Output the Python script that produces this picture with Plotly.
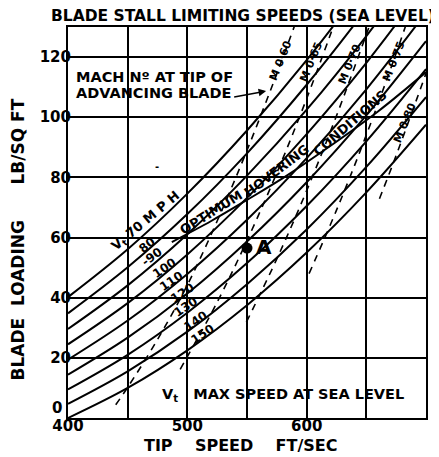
import plotly.graph_objects as go

# ---- data ----
tip_speed = [400, 450, 500, 550, 600, 650, 700]          # ft/sec
vt_labels = ["70", "80", "90", "100", "110", "120", "130", "140", "150"]  # mph
vt_70 = [40.2, 56.1, 74.6, 95.6, 119.0, 145.0, 173.0]
vt_80 = [34.8, 50.1, 67.8, 88.0, 110.8, 136.0, 163.0]
vt_90 = [29.6, 44.1, 61.1, 80.6, 102.5, 127.0, 154.0]
vt_100 = [24.5, 38.2, 54.4, 73.2, 94.4, 118.1, 144.3]
vt_110 = [19.4, 32.4, 47.9, 65.9, 86.4, 109.3, 134.8]
vt_120 = [14.4, 26.7, 41.4, 58.7, 78.4, 100.6, 125.3]
vt_130 = [9.5, 21.0, 35.0, 51.5, 70.5, 92.0, 116.0]
vt_140 = [4.7, 15.5, 28.7, 44.5, 62.7, 83.5, 106.7]
vt_150 = [0.0, 10.0, 22.5, 37.5, 55.0, 75.0, 97.5]
vt_curves = [vt_70, vt_80, vt_90, vt_100, vt_110, vt_120, vt_130, vt_140, vt_150]

# Mach number at tip of advancing blade (dashed)
m60_x = [440, 450, 475, 500, 525, 550, 575, 595]
m60_y = [4.4, 10.2, 26.1, 44.2, 65.5, 89.0, 114.5, 136.0]
m65_x = [494, 525, 550, 575, 600, 625]
m65_y = [16.2, 38.5, 59.0, 81.5, 106.2, 133.1]
m70_x = [549.5, 575, 600, 625, 650, 655]
m70_y = [31.9, 52.9, 75.6, 100.5, 127.5, 133.1]
m75_x = [602, 625, 650, 675, 690]
m75_y = [48.0, 69.1, 94.1, 121.3, 138.7]
m80_x = [661, 675, 700]
m80_y = [72.9, 87.3, 114.6]

# optimum hovering conditions
opt_x = [487, 520, 550, 583, 620, 660, 700]
opt_y = [58.5, 65.5, 72.5, 80.5, 90.5, 102.0, 115.0]

point_a = (550, 56.5)

x_ticks = [400, 450, 500, 550, 600, 650, 700]
x_ticktext = ["400", "", "500", "", "600", "", "700"]
y_ticks = [0, 20, 40, 60, 80, 100, 120]
y_ticktext = ["", "20", "40", "60", "80", "100", "120"]

FONT = "DejaVu Sans"
NB = "\u00a0"

fig = go.Figure()

for vals in vt_curves:
    fig.add_trace(go.Scatter(x=tip_speed, y=vals, mode="lines",
                             line=dict(color="black", width=2, shape="spline", smoothing=1.0),
                             hoverinfo="skip", showlegend=False))

for mx, my in [(m60_x, m60_y), (m65_x, m65_y), (m70_x, m70_y), (m75_x, m75_y), (m80_x, m80_y)]:
    fig.add_trace(go.Scatter(x=mx, y=my, mode="lines",
                             line=dict(color="black", width=1.6, dash="7px,6px", shape="spline"),
                             hoverinfo="skip", showlegend=False))

fig.add_trace(go.Scatter(x=opt_x, y=opt_y, mode="lines",
                         line=dict(color="black", width=2, shape="spline"),
                         hoverinfo="skip", showlegend=False))

fig.add_trace(go.Scatter(x=[point_a[0]], y=[point_a[1]], mode="markers",
                         marker=dict(color="black", size=11),
                         hoverinfo="skip", showlegend=False))

ann = []
def txt(x, y, t, size=11, angle=0, xanchor="center", yanchor="middle", xref="x", yref="y"):
    ann.append(dict(x=x, y=y, text=t, showarrow=False, textangle=angle,
                    xanchor=xanchor, yanchor=yanchor, xref=xref, yref=yref,
                    font=dict(family=FONT, size=size, color="black", weight="bold")))

# curve labels
txt(465, 65.3, "V<sub>t</sub>" + NB + "70 M P H", 13, -40)
txt(466.5, 57.4, "80", 12, -38)
txt(470, 53.6, "-90", 12, -36)
txt(481, 49.8, "100", 12, -34)
txt(487, 45.4, "110", 12, -34)
txt(496, 41.5, "120", 12, -34)
txt(498.5, 37.0, "130", 12, -34)
txt(507, 32.3, "140", 12, -34)
txt(513, 27.9, "150", 12, -34)

# optimum hovering text
txt(520, 68.2, "OPTIMUM", 13, -32)
txt(575, 82.3, "HOVERING", 13, -37)
txt(636, 98.0, "CONDITIONS", 13, -41)

# Mach labels
txt(578, 119.0, "M 0·60", 11, -68)
txt(604, 118.5, "M 0·65", 11, -68)
txt(636, 117.5, "M 0·70", 11, -68)
txt(673, 118.5, "M 0·75", 11, -68)
txt(682, 98.0, "M 0·80", 11, -68)

# small stray mark in the open grid cell
txt(474.5, 83.5, "-", 10, 0)

txt(405, 113.5, "MACH N\u00ba AT TIP OF", 14.5, 0, xanchor="left")
txt(405, 108.2, "ADVANCING BLADE", 14.5, 0, xanchor="left")
ann.append(dict(x=566, y=108.7, ax=538, ay=106.6, axref="x", ayref="y", xref="x", yref="y",
                showarrow=True, arrowhead=2, arrowsize=1, arrowwidth=1.5, arrowcolor="black", text=""))

txt(555.5, 57.0, "A", 20, 0, xanchor="left")
txt(580, 7.6, "V<sub>t</sub>" + NB * 3 + "MAX SPEED AT SEA LEVEL", 14.5, 0)

# y-axis zero label (sits a little above the axis line)
txt(-0.012, 3.2, "0", 15, 0, xanchor="right", xref="paper", yref="y")

# titles
txt(0.489, 1.0, "BLADE STALL LIMITING SPEEDS (SEA LEVEL)", 15.5, 0,
    yanchor="bottom", xref="paper", yref="paper")
txt(0.482, -0.0703, "TIP" + NB * 4 + "SPEED" + NB * 4 + "FT/SEC", 16, 0, xref="paper", yref="paper")
txt(-0.14, 59.3, "BLADE" + NB * 2 + "LOADING" + NB * 6 + "LB/SQ FT", 17, -90, xref="paper", yref="y")

fig.update_layout(
    width=431, height=449,
    margin=dict(l=60, r=11, t=19, b=39),
    paper_bgcolor="white", plot_bgcolor="white",
    annotations=ann,
    font=dict(family=FONT, color="black"),
    xaxis=dict(range=[400, 700], tickmode="array", tickvals=x_ticks, ticktext=x_ticktext,
               showgrid=True, gridcolor="black", gridwidth=1.5, zeroline=False,
               showline=True, linecolor="black", linewidth=2, mirror=True, ticks="",
               ticklabelstandoff=-7,
               tickfont=dict(family=FONT, size=15, color="black", weight="bold")),
    yaxis=dict(range=[0, 130], tickmode="array", tickvals=y_ticks, ticktext=y_ticktext,
               showgrid=True, gridcolor="black", gridwidth=1.5, zeroline=False,
               showline=True, linecolor="black", linewidth=2, mirror=True, ticks="",
               ticklabelstandoff=-8,
               tickfont=dict(family=FONT, size=15, color="black", weight="bold")),
)

fig.write_html("out.html")
